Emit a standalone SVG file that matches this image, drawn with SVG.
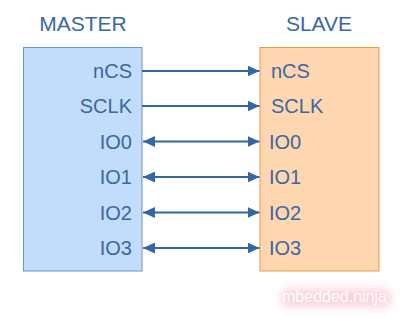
<svg xmlns="http://www.w3.org/2000/svg" width="414" height="319" viewBox="0 0 414 319">
<defs>
<style>
.title{font-family:"Liberation Sans",Arial,sans-serif;font-size:21px;fill:#3b67a3}
.pin{font-family:"Liberation Sans",Arial,sans-serif;font-size:20px;fill:#3b67a3}
.r{text-anchor:end}
.wire{stroke:#3465a4;stroke-width:2;fill:none}
.wm{font-family:"Liberation Sans",Arial,sans-serif;font-size:16px;fill:#ffffff}
</style>
<marker id="ah" viewBox="0 0 12 11" refX="12" refY="5.5" markerWidth="12" markerHeight="11" markerUnits="userSpaceOnUse" orient="auto-start-reverse">
<path d="M0,0 L12,5.5 L0,11 Z" fill="#3465a4"/>
</marker>
<filter id="glow" x="-20%" y="-50%" width="140%" height="200%">
<feGaussianBlur stdDeviation="4"/>
</filter>
</defs>
<rect width="414" height="319" fill="#ffffff"/>
<g id="master">
<text class="title" x="83" y="31" text-anchor="middle">MASTER</text>
<rect x="23.5" y="47.5" width="118.5" height="223.5" fill="#c2dcfc" stroke="#6f92c6" stroke-width="1"/>
<text class="pin r" x="132" y="78">nCS</text>
<text class="pin r" x="132" y="113">SCLK</text>
<text class="pin r" x="132" y="148.5">IO0</text>
<text class="pin r" x="132" y="184">IO1</text>
<text class="pin r" x="132" y="219.5">IO2</text>
<text class="pin r" x="132" y="255">IO3</text>
</g>
<g id="slave">
<text class="title" x="319" y="31" text-anchor="middle">SLAVE</text>
<rect x="260" y="47.5" width="119" height="223.5" fill="#fed7b0" stroke="#e89a45" stroke-width="1"/>
<text class="pin" x="271" y="78">nCS</text>
<text class="pin" x="271" y="113">SCLK</text>
<text class="pin" x="269" y="148.5">IO0</text>
<text class="pin" x="269" y="184">IO1</text>
<text class="pin" x="269" y="219.5">IO2</text>
<text class="pin" x="269" y="255">IO3</text>
</g>
<g id="connectors">
<line class="wire" x1="142" y1="71" x2="259.5" y2="71" marker-end="url(#ah)"/>
<line class="wire" x1="142" y1="106" x2="259.5" y2="106" marker-end="url(#ah)"/>
<line class="wire" x1="143" y1="141.5" x2="259.5" y2="141.5" marker-start="url(#ah)" marker-end="url(#ah)"/>
<line class="wire" x1="143" y1="177" x2="259.5" y2="177" marker-start="url(#ah)" marker-end="url(#ah)"/>
<line class="wire" x1="143" y1="212.5" x2="259.5" y2="212.5" marker-start="url(#ah)" marker-end="url(#ah)"/>
<line class="wire" x1="143" y1="248" x2="259.5" y2="248" marker-start="url(#ah)" marker-end="url(#ah)"/>
</g>
<g id="watermark">
<rect x="280" y="289" width="112" height="18" rx="9" fill="#f7b6c0" opacity="0.6" filter="url(#glow)"/>
<text class="wm" x="282" y="302">mbedded.ninja</text>
</g>
</svg>
